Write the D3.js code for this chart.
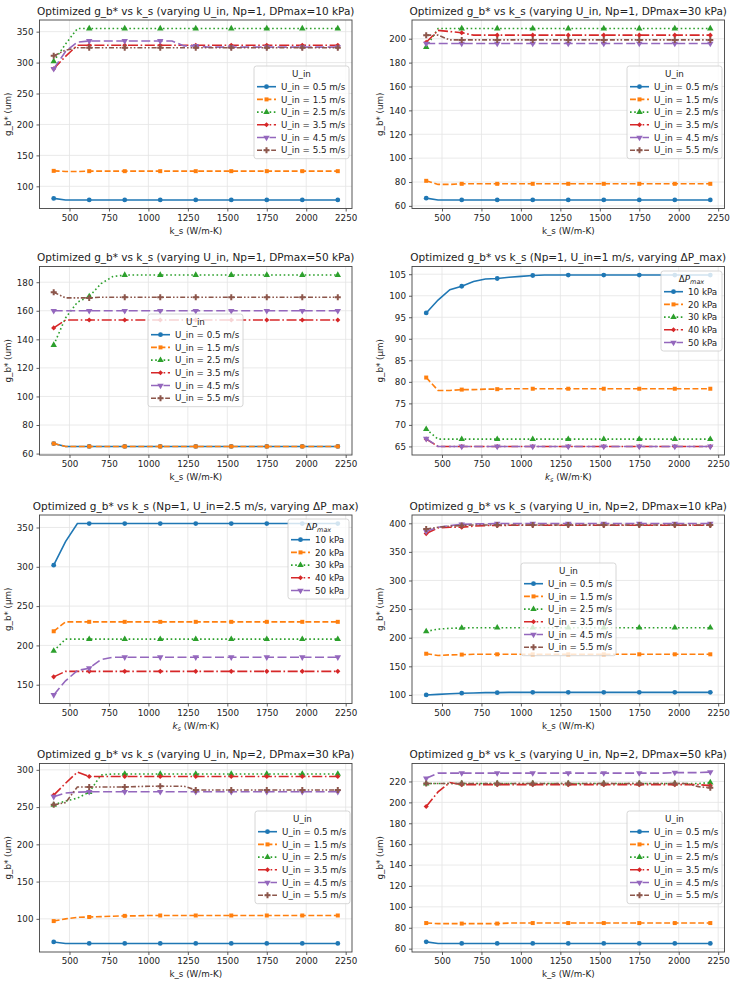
<!DOCTYPE html>
<html>
<head>
<meta charset="utf-8">
<script src="https://cdn.jsdelivr.net/npm/d3@7"></script>
<style>
  body { margin: 0; background: #fff; }
  svg { font-family: "DejaVu Sans", sans-serif; }
</style>
</head>
<body>
<script>
// k_s grid (W/m-K)
var ks = [400, 475, 550, 625, 700, 775, 850, 925, 1000, 1075, 1150, 1225, 1300,
          1375, 1450, 1525, 1600, 1675, 1750, 1825, 1900, 1975, 2050, 2125, 2200];

var xTicks = [500, 750, 1000, 1250, 1500, 1750, 2000, 2250];

var uLabels = ["U_in = 0.5 m/s", "U_in = 1.5 m/s", "U_in = 2.5 m/s",
               "U_in = 3.5 m/s", "U_in = 4.5 m/s", "U_in = 5.5 m/s"];
var dpLabels = ["10 kPa", "20 kPa", "30 kPa", "40 kPa", "50 kPa"];

// Np=1, DPmax=10 kPa
var np1dp10 = [
  [80.5,78,78,78,78,78,78,78,78,78,78,78,78,78,78,78,78,78,78,78,78,78,78,78,78],
  [125,124,124,124.5,124.5,124.5,124.5,124.5,124.5,124.5,124.5,124.5,124.5,124.5,124.5,124.5,124.5,124.5,124.5,124.5,124.5,124.5,124.5,124.5,124.5],
  [302,330,355,355,355,355,355,355,355,355,355,355,355,355,355,355,355,355,355,355,355,355,355,355,355],
  [290,310,328,328,328,328,328,328,328,328,328,328,328,328,328,328,328,328,328,328,328,328,328,328,328],
  [290,318,333,335,335,335,335,335,335,335,335,327,327,325,325,325,325,325,325,325,325,325,325,325,325],
  [311,320,324,324,324,324,324,324,324,324,324,324,324,324,324,324,324,324,324,324,324,324,324,324,324]
];
// Np=1, DPmax=30 kPa
var np1dp30 = [
  [66.5,65,65,65,65,65,65,65,65,65,65,65,65,65,65,65,65,65,65,65,65,65,65,65,65],
  [81,78,78,78.5,78.5,78.5,78.5,78.5,78.5,78.5,78.5,78.5,78.5,78.5,78.5,78.5,78.5,78.5,78.5,78.5,78.5,78.5,78.5,78.5,78.5],
  [193,208.5,208.5,208.5,208.5,208.5,208.5,208.5,208.5,208.5,208.5,208.5,208.5,208.5,208.5,208.5,208.5,208.5,208.5,208.5,208.5,208.5,208.5,208.5,208.5],
  [197,207,206,205,203,203,203,203,203,203,203,203,203,203,203,203,203,203,203,203,203,203,203,203,203],
  [196,196,196,196,196,196,196,196,196,196,196,196,196,196,196,196,196,196,196,196,196,196,196,196,196],
  [203,203,199,199,199,199,199,199,199,199,199,199,199,199,199,199,199,199,199,199,199,199,199,199,199]
];
// Np=1, DPmax=50 kPa
var np1dp50 = [
  [67,65,65,65,65,65,65,65,65,65,65,65,65,65,65,65,65,65,65,65,65,65,65,65,65],
  [67,65,65,65,65,65,65,65,65,65,65,65,65,65,65,65,65,65,65,65,65,65,65,65,65],
  [136,155,166,170,179,184,185,185,185,185,185,185,185,185,185,185,185,185,185,185,185,185,185,185,185],
  [148,153.5,153.5,153.5,153.5,153.5,153.5,153.5,153.5,153.5,153.5,153.5,153.5,153.5,153.5,153.5,153.5,153.5,153.5,153.5,153.5,153.5,153.5,153.5,153.5],
  [160,160,160,160,160,160,160,160,160,160,160,160,160,160,160,160,160,160,160,160,160,160,160,160,160],
  [173,169,169,169,169.5,169.5,169.5,169.5,169.5,169.5,169.5,169.5,169.5,169.5,169.5,169.5,169.5,169.5,169.5,169.5,169.5,169.5,169.5,169.5,169.5]
];
// Np=1, U_in=1 m/s, varying dP
var np1u1 = [
  [96,99,101.4,102.2,103.3,103.9,104,104.3,104.5,104.7,104.8,104.8,104.8,104.8,104.8,104.8,104.8,104.8,104.8,104.8,104.8,104.8,104.8,104.8,104.8],
  [81,78,78,78.2,78.2,78.3,78.3,78.4,78.4,78.4,78.4,78.4,78.4,78.4,78.4,78.4,78.4,78.4,78.4,78.4,78.4,78.4,78.4,78.4,78.4],
  [69,66.7,66.7,66.7,66.7,66.7,66.7,66.7,66.7,66.7,66.7,66.7,66.7,66.7,66.7,66.7,66.7,66.7,66.7,66.7,66.7,66.7,66.7,66.7,66.7],
  [66.7,65,65,65,65,65,65,65,65,65,65,65,65,65,65,65,65,65,65,65,65,65,65,65,65],
  [66.8,65,65,65,65,65,65,65,65,65,65,65,65,65,65,65,65,65,65,65,65,65,65,65,65]
];
// Np=1, U_in=2.5 m/s, varying dP
var np1u25 = [
  [302,332,355,355,355,355,355,355,355,355,355,355,355,355,355,355,355,355,355,355,355,355,355,355,355],
  [218,230,230,230,230,230,230,230,230,230,230,230,230,230,230,230,230,230,230,230,230,230,230,230,230],
  [193,208,208,208,208,208,208,208,208,208,208,208,208,208,208,208,208,208,208,208,208,208,208,208,208],
  [160,167,167,167,167,167,167,167,167,167,167,167,167,167,167,167,167,167,167,167,167,167,167,167,167],
  [137,155,168,171,182,185,185,185,185,185,185,185,185,185,185,185,185,185,185,185,185,185,185,185,185]
];
// Np=2, DPmax=10 kPa
var np2dp10 = [
  [100,101,102,103,103.5,104,104,104.5,104.5,104.5,104.5,104.5,104.5,104.5,104.5,104.5,104.5,104.5,104.5,104.5,104.5,104.5,104.5,104.5,104.5],
  [172,169,170,170.5,171,171,171,171,171,171,171,171,171,171,171,171,171,171,171,171,171,171,171,171,171],
  [211,215,216.5,217,217.5,217.5,217.5,217.5,217.5,217.5,217.5,217.5,217.5,217.5,217.5,217.5,217.5,217.5,217.5,217.5,217.5,217.5,217.5,217.5,217.5],
  [382,392,393,393,395,396,396,396.5,396.5,396.5,396.5,396.5,396.5,396.5,396.5,396.5,396.5,396.5,396.5,396.5,396.5,396.5,396.5,396.5,396.5],
  [386,393,396,398,399,399,399.5,399.5,399.5,399.5,399.5,399.5,399.5,399.5,399.5,399.5,399.5,399.5,399.5,399.5,399.5,399.5,399.5,399.5,399.5],
  [390,393,395,396,397,397,397,397,397,397,397,397,397,397,397,397,397,397,397,397,397,397,397,397,397]
];
// Np=2, DPmax=30 kPa
var np2dp30 = [
  [69,67,67,67,67,67,67,67,67,67,67,67,67,67,67,67,67,67,67,67,67,67,67,67,67],
  [97,100,102,102.5,103,103.5,104,104,104.5,104.5,104.5,104.5,104.5,104.5,104.5,104.5,104.5,104.5,104.5,104.5,104.5,104.5,104.5,104.5,104.5],
  [253,258,262,270,293,294.5,294.5,294.5,294.5,294.5,294.5,294.5,294.5,294.5,294.5,294.5,294.5,294.5,294.5,294.5,294.5,294.5,294.5,294.5,294.5],
  [266,282,297,291,291,291,291,291,291,291,291,291,291,291,291,291,291,291,291,291,291,291,291,291,291],
  [264,269,270,270.5,270.5,270.5,270.5,270.5,270.5,270.5,270.5,270.5,270.5,270.5,270.5,270.5,270.5,270.5,270.5,270.5,270.5,270.5,270.5,270.5,270.5],
  [253,256,277,277,277,277,277,277.5,278,278,278,278,273,273,273,273,273,273,273,273,273,273,273,273,273]
];
// Np=2, DPmax=50 kPa
var np2dp50 = [
  [66.5,65,65,65,65,65,65,65,65,65,65,65,65,65,65,65,65,65,65,65,65,65,65,65,65],
  [84.5,84,84,84,84,84,84,84.5,84.5,84.5,84.5,84.5,84.5,84.5,84.5,84.5,84.5,84.5,84.5,84.5,84.5,84.5,84.5,84.5,84.5],
  [218,218,218,218,218,218,218,218,218,218,218,218,218,218,218,218,218,218,218,218,218,218,218,218,219],
  [196,210,219,217,217,217,217,217,217,217,217,217,217,217,217,217,217,217,217,217,217,217,217,217,216],
  [223,228,228,228,228,228,228,228,228,228,228,228,228,228,228,228,228,228,228,228,228,228.5,228.5,228.5,229],
  [218,218,218,218,218,218,218,218,218,218,218,218,218,218,218,218,218,218,218,218,218,218,218,215,214]
];

var yTicks1 = [100, 150, 200, 250, 300, 350];
var yTicks2 = [60, 80, 100, 120, 140, 160, 180, 200];
var yTicks3 = [60, 80, 100, 120, 140, 160, 180];
var yTicks4 = [65, 70, 75, 80, 85, 90, 95, 100, 105];
var yTicks5 = [150, 200, 250, 300, 350];
var yTicks6 = [100, 150, 200, 250, 300, 350, 400];
var yTicks7 = [100, 150, 200, 250, 300];
var yTicks8 = [60, 80, 100, 120, 140, 160, 180, 200, 220];

// series styling (matplotlib tab10 + line styles)
var colors = ["#1f77b4", "#ff7f0e", "#2ca02c", "#d62728", "#9467bd", "#8c564b"];
var dashes = ["none", "5.9,2.6", "1.6,2.6", "10,2.6,1.6,2.6", "9,3.5", "5,2,1.6,2,1.6,2"];
var shapes = [d3.symbolCircle, d3.symbolSquare, d3.symbolTriangle, d3.symbolSquare, d3.symbolTriangle, d3.symbolCross];
var sizes = [18, 16, 18, 13, 18, 20];
var rotations = [0, 0, 0, 45, 180, 0];

var width = 737, height = 983;
var svg = d3.select("body").append("svg").attr("width", width).attr("height", height);

var colX = [39.5, 412], rowY = [20, 266.5, 515, 763.5];
var pw = 312.5, ph = 188.5;

var panels = [
  {title: "Optimized g_b* vs k_s (varying U_in, Np=1, DPmax=10 kPa)", data: np1dp10, labels: uLabels, yt: yTicks1, col: 0, row: 0, leg: [214.5, 46], legW: 95, math: false},
  {title: "Optimized g_b* vs k_s (varying U_in, Np=1, DPmax=30 kPa)", data: np1dp30, labels: uLabels, yt: yTicks2, col: 1, row: 0, leg: [215, 46], legW: 95, math: false},
  {title: "Optimized g_b* vs k_s (varying U_in, Np=1, DPmax=50 kPa)", data: np1dp50, labels: uLabels, yt: yTicks3, col: 0, row: 1, leg: [108.5, 47.5], legW: 95, math: false},
  {title: "Optimized g_b* vs k_s (Np=1, U_in=1 m/s, varying \u0394P_max)", data: np1u1, labels: dpLabels, yt: yTicks4, col: 1, row: 1, leg: [249, 4.5], legW: 61, math: true},
  {title: "Optimized g_b* vs k_s (Np=1, U_in=2.5 m/s, varying \u0394P_max)", data: np1u25, labels: dpLabels, yt: yTicks5, col: 0, row: 2, leg: [248.5, 4], legW: 61, math: true},
  {title: "Optimized g_b* vs k_s (varying U_in, Np=2, DPmax=10 kPa)", data: np2dp10, labels: uLabels, yt: yTicks6, col: 1, row: 2, leg: [109, 48], legW: 95, math: false},
  {title: "Optimized g_b* vs k_s (varying U_in, Np=2, DPmax=30 kPa)", data: np2dp30, labels: uLabels, yt: yTicks7, col: 0, row: 3, leg: [215.5, 47.5], legW: 95, math: false},
  {title: "Optimized g_b* vs k_s (varying U_in, Np=2, DPmax=50 kPa)", data: np2dp50, labels: uLabels, yt: yTicks8, col: 1, row: 3, leg: [215, 47.5], legW: 95, math: false}
];

panels.forEach(drawPanel);

function drawPanel(p) {
  var x0 = colX[p.col], y0 = rowY[p.row];
  var g = svg.append("g").attr("transform", "translate(" + x0 + "," + y0 + ")");

  // matplotlib style 5% margins
  var xmin = d3.min(ks), xmax = d3.max(ks);
  var all = d3.merge(p.data);
  var ymin = d3.min(all), ymax = d3.max(all);
  var xm = (xmax - xmin) * 0.05, ym = (ymax - ymin) * 0.05;

  var x = d3.scaleLinear().domain([xmin - xm, xmax + xm]).range([0, pw]);
  var y = d3.scaleLinear().domain([ymin - ym, ymax + ym]).range([ph, 0]);

  // grid
  g.append("g").selectAll("line").data(xTicks).join("line")
    .attr("x1", d => x(d)).attr("x2", d => x(d)).attr("y1", 0).attr("y2", ph)
    .attr("stroke", "#e4e4e4").attr("stroke-width", 0.8);
  g.append("g").selectAll("line").data(p.yt).join("line")
    .attr("y1", d => y(d)).attr("y2", d => y(d)).attr("x1", 0).attr("x2", pw)
    .attr("stroke", "#e4e4e4").attr("stroke-width", 0.8);

  // lines + markers
  var line = d3.line().x((d, i) => x(ks[i])).y(d => y(d));
  p.data.forEach(function(s, k) {
    g.append("path").datum(s)
      .attr("d", line)
      .attr("fill", "none")
      .attr("stroke", colors[k])
      .attr("stroke-width", 1.6)
      .attr("stroke-dasharray", dashes[k]);
    var sym = d3.symbol().type(shapes[k]).size(sizes[k]);
    g.append("g").selectAll("path")
      .data(s.map((v, i) => [ks[i], v]).filter((d, i) => i % 3 === 0))
      .join("path")
      .attr("d", sym)
      .attr("transform", d => "translate(" + x(d[0]) + "," + y(d[1]) + ") rotate(" + rotations[k] + ")")
      .attr("fill", colors[k]);
  });

  // axes
  var xa = g.append("g").attr("transform", "translate(0," + ph + ")")
    .call(d3.axisBottom(x).tickValues(xTicks).tickSize(3).tickPadding(3).tickFormat(d3.format("d")));
  var ya = g.append("g")
    .call(d3.axisLeft(y).tickValues(p.yt).tickSize(3).tickPadding(3).tickFormat(d3.format("d")));
  [xa, ya].forEach(function(a) {
    a.select(".domain").remove();
    a.selectAll("line").attr("stroke", "#333").attr("stroke-width", 0.8);
    a.selectAll("text").attr("font-size", 8.75).attr("fill", "#222").attr("font-family", "DejaVu Sans");
  });

  g.append("rect").attr("width", pw).attr("height", ph)
    .attr("fill", "none").attr("stroke", "#444").attr("stroke-width", 0.9);

  // title
  g.append("text").attr("x", pw / 2).attr("y", -5.5)
    .attr("text-anchor", "middle").attr("font-size", 10.5).attr("fill", "#222")
    .text(p.title);

  // axis labels
  var xl = g.append("text").attr("x", pw / 2).attr("y", ph + 25)
    .attr("text-anchor", "middle").attr("font-size", 8.75).attr("fill", "#222");
  var yl = g.append("text").attr("transform", "translate(-29," + (ph / 2) + ") rotate(-90)")
    .attr("text-anchor", "middle").attr("font-size", 8.75).attr("fill", "#222");
  if (p.math) {
    xl.append("tspan").attr("font-style", "italic").text("k");
    xl.append("tspan").attr("font-style", "italic").attr("font-size", 6.5).attr("dy", 2).text("s");
    xl.append("tspan").attr("dy", -2).text(" (W/m\u00b7K)");
    yl.text("g_b* (\u03bcm)");
  } else {
    xl.text("k_s (W/m-K)");
    yl.text("g_b* (um)");
  }

  // legend
  var n = p.data.length;
  var lh = 20.5 + n * 12.7 - 4;
  var lg = g.append("g").attr("transform", "translate(" + p.leg[0] + "," + p.leg[1] + ")");
  lg.append("rect").attr("width", p.legW).attr("height", lh).attr("rx", 2.5)
    .attr("fill", "#fff").attr("fill-opacity", 0.8)
    .attr("stroke", "#ccc").attr("stroke-width", 0.8);
  var lt = lg.append("text").attr("x", p.legW / 2).attr("y", 10.5)
    .attr("text-anchor", "middle").attr("font-size", 8.75).attr("fill", "#222");
  if (p.math) {
    lt.append("tspan").text("\u0394");
    lt.append("tspan").attr("font-style", "italic").text("P");
    lt.append("tspan").attr("font-style", "italic").attr("font-size", 6.5).attr("dy", 2).text("max");
  } else {
    lt.text("U_in");
  }
  p.labels.forEach(function(lab, k) {
    var cy = 20.7 + k * 12.7;
    lg.append("line").attr("x1", 3).attr("x2", 22).attr("y1", cy).attr("y2", cy)
      .attr("stroke", colors[k]).attr("stroke-width", 1.6).attr("stroke-dasharray", dashes[k]);
    lg.append("path").attr("d", d3.symbol().type(shapes[k]).size(sizes[k]))
      .attr("transform", "translate(12.5," + cy + ") rotate(" + rotations[k] + ")")
      .attr("fill", colors[k]);
    lg.append("text").attr("x", 27).attr("y", cy + 3.2)
      .attr("font-size", 8.75).attr("fill", "#222").text(lab);
  });
}
</script>
</body>
</html>
